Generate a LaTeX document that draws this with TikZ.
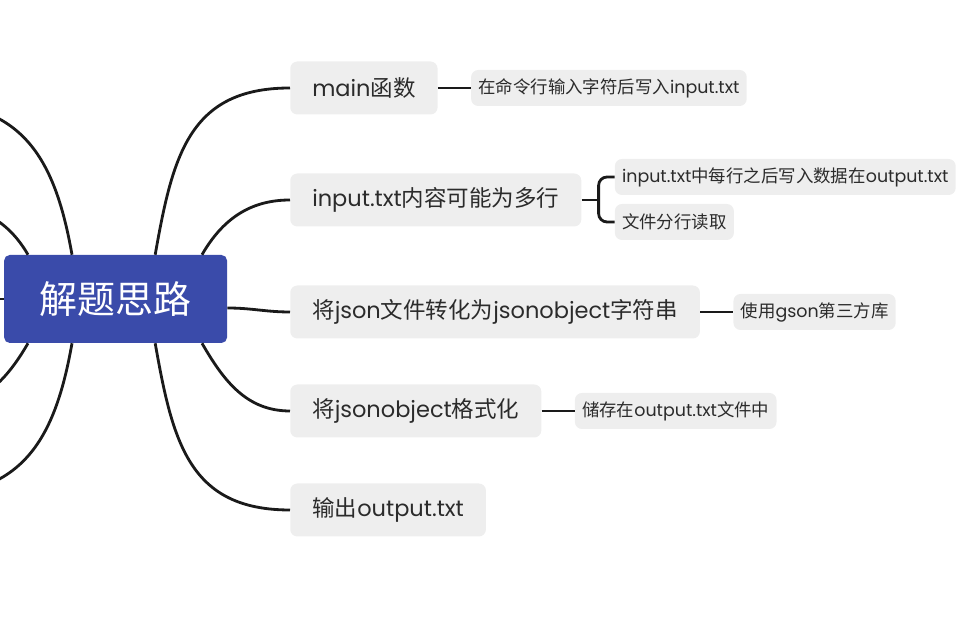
\documentclass[tikz,border=0pt]{standalone}
\usepackage{fontspec}
\setmainfont{Poppins}
\newfontfamily\cjk{Noto Sans CJK SC}
\usepackage{tikz}
\usetikzlibrary{positioning}

\definecolor{rootblue}{HTML}{3A4BAA}
\definecolor{topicgray}{HTML}{EEEEEE}
\definecolor{textdark}{HTML}{2B2B2B}
\definecolor{linedark}{HTML}{1A1A1A}

\begin{document}
\begin{tikzpicture}[
			root/.style={
					fill=rootblue,
					rounded corners=4pt,
					minimum width=5.575cm,
					minimum height=2.2cm,
					text=white,
					font=\cjk\fontsize{27pt}{30pt}\selectfont
				},
			topic/.style={
					fill=topicgray,
					rounded corners=5pt,
					anchor=west,
					minimum height=1.325cm,
					inner xsep=0.55cm,
					text=textdark,
					font=\fontsize{16pt}{19pt}\selectfont
				},
			subtopic/.style={
					fill=topicgray,
					rounded corners=5pt,
					anchor=west,
					minimum height=0.9cm,
					inner xsep=0.18cm,
					text=textdark,
					font=\fontsize{12.4pt}{15pt}\selectfont
				},
			branch/.style={
					draw=linedark,
					line width=2pt
				}
			]

			\useasboundingbox (0,0) rectangle (24.425,15.6);
			\clip (0,0) rectangle (24.425,15.6);

			% ================= 中心主题 =================
			\node[root] (root) at (2.89,8.125) {解题思路};

			% ================= 分支主题 =================
			\node[topic] (main)   at (7.25,13.4)  {main{\cjk 函数}};
			\node[topic] (input)  at (7.25,10.6)  {input.txt{\cjk 内容可能为多行}};
			\node[topic] (tojson) at (7.25,7.8)   {{\cjk 将}json{\cjk 文件转化为}jsonobject{\cjk 字符串}};
			\node[topic] (format) at (7.25,5.325) {{\cjk 将}jsonobject{\cjk 格式化}};
			\node[topic] (output) at (7.25,2.85)  {{\cjk 输出}output.txt};

			% ================= 子主题 =================
			\node[subtopic] (mainsub) [right=0.825cm of main] {{\cjk 在命令行输入字符后写入}input.txt};
			\node[subtopic] (inputsuba) [right=0.825cm of input.east, yshift=0.575cm] {input.txt{\cjk 中每行之后写入数据在}output.txt};
			\node[subtopic] (inputsubb) [right=0.825cm of input.east, yshift=-0.55cm] {{\cjk 文件分行读取}};
			\node[subtopic] (tojsonsub) [right=0.825cm of tojson] {{\cjk 使用}gson{\cjk 第三方库}};
			\node[subtopic] (formatsub) [right=0.825cm of format] {{\cjk 储存在}output.txt{\cjk 文件中}};

			% 左侧分支，主题在画面之外
			\coordinate (leftA) at (-2.0,13.05);
			\coordinate (leftB) at (-1.6,10.5);
			\coordinate (leftC) at (-1.5,8.125);
			\coordinate (leftD) at (-1.6,5.4);
			\coordinate (leftE) at (-2.0,3.2);

			% ================= 中心到分支 =================
			\draw[branch] ([xshift=0.99cm]root.north) to[out=80,in=180,looseness=1.2] (main.west);
			\draw[branch] ([xshift=2.16cm]root.north) to[out=60,in=180] (input.west);
			\draw[branch] ([yshift=-0.225cm]root.east) to[out=0,in=180] (tojson.west);
			\draw[branch] ([xshift=2.16cm]root.south) to[out=-60,in=180] (format.west);
			\draw[branch] ([xshift=0.99cm]root.south) to[out=-80,in=180,looseness=1.2] (output.west);

			\draw[branch] ([xshift=-1.09cm]root.north) to[out=100,in=0,looseness=1.2] (leftA);
			\draw[branch] ([xshift=-2.19cm]root.north) to[out=120,in=0] (leftB);
			\draw[branch] (root.west) -- (leftC);
			\draw[branch] ([xshift=-2.19cm]root.south) to[out=-120,in=0] (leftD);
			\draw[branch] ([xshift=-1.09cm]root.south) to[out=-100,in=0,looseness=1.2] (leftE);

			% ================= 分支到子主题 =================
			\draw[branch] (main.east) -- (mainsub.west);
			\coordinate (fork) at ([xshift=0.425cm]input.east);
			\draw[branch] (input.east) -- (fork);
			\draw[branch, rounded corners=6pt] (inputsuba.west) -| (fork) |- (inputsubb.west);
			\draw[branch] (tojson.east) -- (tojsonsub.west);
			\draw[branch] (format.east) -- (formatsub.west);

		\end{tikzpicture}
\end{document}
